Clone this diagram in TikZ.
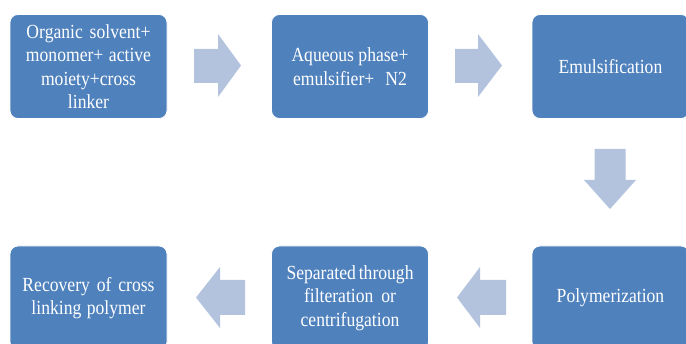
\documentclass[tikz,border=0pt]{standalone}
\usepackage{fontspec}
\setmainfont[FakeStretch=0.88]{Liberation Serif}
\definecolor{boxblue}{HTML}{4F81BD}
\definecolor{arrowblue}{HTML}{B3C3DE}
\tikzset{
  stepbox/.style={rounded corners=8pt, fill=boxblue, draw=white, line width=0.8pt,
    text=white, align=center, inner sep=0pt,
    minimum width=157pt, minimum height=104pt,
    font=\fontsize{20}{23.5}\selectfont},
  blockarrow/.style={fill=arrowblue, draw=none}
}
\begin{document}
\begin{tikzpicture}[x=1pt,y=-1pt]
\useasboundingbox (0,0) rectangle (686,344);
\clip (0,0) rectangle (686,344);
\fill[white] (0,0) rectangle (686,344);
% boxes
\node[stepbox] (b1) at (88.5,66.5) {\makebox[124pt][s]{Organic solvent+}\\\makebox[125pt][s]{monomer+ active}\\moiety+cross\\linker};
\node[stepbox] (b2) at (350,66.5) {Aqueous phase+\\\makebox[114pt][s]{emulsifier+ N2}};
\node[stepbox] (b3) at (610.5,66.5) {Emulsification};
\node[stepbox] (b4) at (610.5,298) {Polymerization};
\node[stepbox] (b5) at (350,298) {\makebox[127pt][s]{Separated through}\\\makebox[92pt][s]{filteration or}\\centrifugation};
\node[stepbox] (b6) at (88.5,298) {\makebox[132pt][s]{Recovery of cross}\\\makebox[114pt][s]{linking polymer}};
% block arrows
\fill[blockarrow] (194,49) -- (218,49) -- (218,34) -- (241,65.5) -- (218,97) -- (218,83) -- (194,83) -- cycle;
\fill[blockarrow] (455,49) -- (478,49) -- (478,34) -- (502,65.5) -- (478,97) -- (478,83) -- (455,83) -- cycle;
\fill[blockarrow] (594.5,149) -- (625.5,149) -- (625.5,180) -- (636,180) -- (610,209) -- (584,180) -- (594.5,180) -- cycle;
\fill[blockarrow] (506,280) -- (480,280) -- (480,267) -- (457,297.5) -- (480,328) -- (480,315) -- (506,315) -- cycle;
\fill[blockarrow] (245,280) -- (220,280) -- (220,267) -- (196,297.5) -- (220,328) -- (220,315) -- (245,315) -- cycle;
\end{tikzpicture}
\end{document}
